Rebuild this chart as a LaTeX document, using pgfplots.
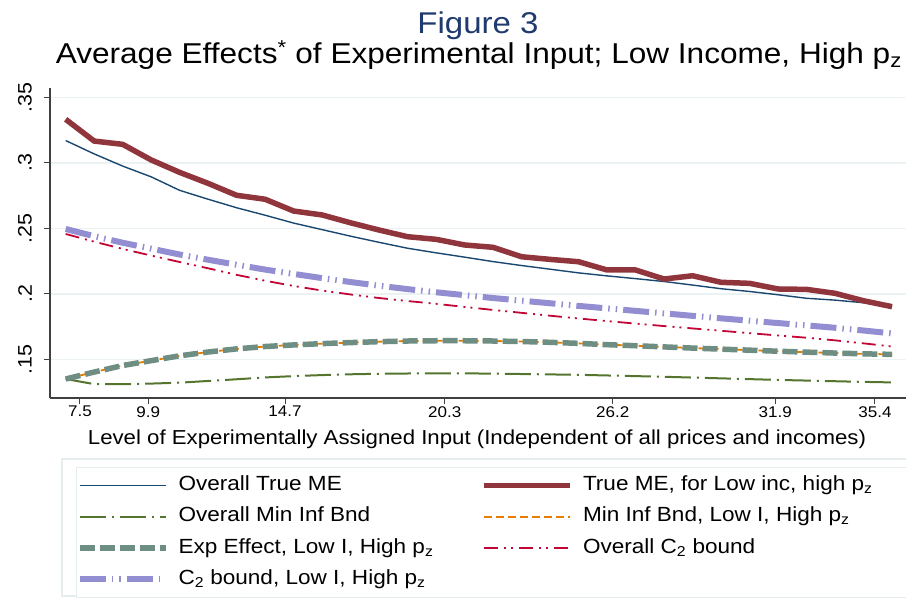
\documentclass[border=0pt]{standalone}
\usepackage{pgfplots}
\pgfplotsset{compat=1.18}
\usepackage{pgfplotstable}
\usepackage{fontspec}
\setmainfont{Liberation Sans}[FakeStretch=1.1]
\definecolor{sblue}{HTML}{1A476F}
\definecolor{smaroon}{HTML}{90353B}
\definecolor{sgreen}{HTML}{55752F}
\definecolor{sorange}{HTML}{E37E00}
\definecolor{steal}{HTML}{6E8E84}
\definecolor{cranb}{HTML}{C10534}
\definecolor{slav}{HTML}{938DD2}
\definecolor{sgrid}{HTML}{EAF2F3}
\definecolor{sbox}{HTML}{E6EDEF}
\definecolor{titleblue}{HTML}{1E3A6E}
\pgfplotstableread{
x  blue    red     mininf  minlow  expe    ctwoall ctwolow
7  0.3170  0.3332  0.1350  0.1350  0.1350  0.2457  0.2495
8  0.3068  0.3166  0.1311  0.1403  0.1403  0.2398  0.2440
9  0.2975  0.3141  0.1310  0.1453  0.1453  0.2343  0.2390
10 0.2893  0.3022  0.1315  0.1490  0.1490  0.2292  0.2345
11 0.2790  0.2927  0.1322  0.1527  0.1527  0.2243  0.2300
12 0.2722  0.2843  0.1335  0.1556  0.1556  0.2195  0.2260
13 0.2657  0.2752  0.1348  0.1580  0.1580  0.2145  0.2222
14 0.2600  0.2722  0.1362  0.1598  0.1598  0.2100  0.2185
15 0.2540  0.2632  0.1372  0.1610  0.1610  0.2060  0.2152
16 0.2490  0.2602  0.1380  0.1620  0.1620  0.2025  0.2120
17 0.2440  0.2542  0.1386  0.1628  0.1628  0.1995  0.2090
18 0.2393  0.2487  0.1390  0.1635  0.1635  0.1968  0.2062
19 0.2348  0.2436  0.1392  0.1640  0.1640  0.1945  0.2036
20 0.2313  0.2416  0.1393  0.1642  0.1642  0.1924  0.2012
21 0.2280  0.2373  0.1393  0.1642  0.1642  0.1900  0.1990
22 0.2246  0.2355  0.1391  0.1640  0.1640  0.1877  0.1968
23 0.2216  0.2283  0.1388  0.1636  0.1636  0.1855  0.1948
24 0.2188  0.2263  0.1385  0.1630  0.1630  0.1833  0.1928
25 0.2160  0.2245  0.1382  0.1622  0.1622  0.1812  0.1908
26 0.2137  0.2182  0.1377  0.1612  0.1612  0.1792  0.1889
27 0.2116  0.2182  0.1372  0.1604  0.1604  0.1773  0.1870
28 0.2094  0.2113  0.1367  0.1595  0.1595  0.1754  0.1851
29 0.2067  0.2138  0.1361  0.1586  0.1586  0.1736  0.1832
30 0.2039  0.2088  0.1355  0.1578  0.1578  0.1718  0.1813
31 0.2018  0.2080  0.1349  0.1570  0.1570  0.1700  0.1795
32 0.1993  0.2037  0.1343  0.1562  0.1562  0.1682  0.1777
33 0.1966  0.2034  0.1338  0.1555  0.1555  0.1665  0.1759
34 0.1952  0.2004  0.1333  0.1548  0.1548  0.1645  0.1741
35 0.1932  0.1947  0.1328  0.1542  0.1542  0.1622  0.1720
36 0.1902  0.1902  0.1324  0.1538  0.1538  0.1598  0.1698
}\datatable
\begin{document}
\begin{tikzpicture}
\path[use as bounding box] (0,0) rectangle (906pt,598pt);
\draw[sbox, line width=1.5pt] (62pt,2pt) rectangle (930pt,139pt);
\begin{axis}[
  at={(50pt,200pt)}, anchor=south west,
  scale only axis, width=856pt, height=310pt,
  clip=false,
  xmin=6.45, xmax=36.49, ymin=0.1205, ymax=0.3571,
  axis x line*=bottom, axis y line*=left,
  axis line style={draw=black!75, line width=1.2pt, -},
  xtick={7.5,9.9,14.7,20.3,26.2,31.9,35.4},
  xticklabels={7.5,9.9,14.7,20.3,26.2,31.9,35.4},
  ytick={0.15,0.2,0.25,0.3,0.35},
  yticklabels={.15,.2,.25,.3,.35},
  /pgf/number format/assume math mode=true,
  tick align=outside, major tick length=6pt,
  tick style={draw=black!75, line width=1pt},
  ymajorgrids, grid style={sgrid, line width=1.5pt},
  xticklabel style={font=\fontsize{15.5}{19}\selectfont, inner sep=2pt},
  yticklabel style={font=\fontsize{19.5}{24}\selectfont, rotate=90, anchor=south, inner sep=12pt},
  title={Average Effects\textsuperscript{*} of Experimental Input; Low Income, High p\textsubscript{z}},
  title style={font=\fontsize{28.7}{34}\selectfont, at={(axis description cs:0.501,1.0581)}, anchor=base, inner sep=0pt},
  xlabel={Level of Experimentally Assigned Input (Independent of all prices and incomes)},
  xlabel style={font=\fontsize{20.2}{25}\selectfont, at={(axis description cs:0.4988,-0.1516)}, anchor=base, inner sep=0pt},
  legend columns=2,
  legend cell align=left,
  legend image code/.code={\draw[#1] (0pt,0pt) -- (86pt,0pt);},
  legend style={at={(axis description cs:0.0304,-0.2226)}, anchor=north west,
    draw=sbox, line width=1pt, inner xsep=0pt, inner ysep=5pt,
    font=\fontsize{20.5}{24}\selectfont,
    nodes={inner xsep=2pt, inner ysep=3pt, text height=15pt, text depth=5pt},
    row sep=5.3pt,
    /tikz/every odd column/.append style={column sep=8pt},
    /tikz/every even column/.append style={column sep=2pt}},
]
\addplot[sblue, line width=1.4pt, line join=round] table[x=x, y=blue] {\datatable};
\addlegendentry{\makebox[299pt][l]{Overall True ME}}
\addplot[smaroon, line width=5.5pt, line join=round] table[x=x, y=red] {\datatable};
\addlegendentry{\makebox[340pt][l]{True ME, for Low inc, high p\textsubscript{z}}}
\addplot[sgreen, line width=2pt, dash pattern=on 26pt off 6pt on 2pt off 6pt] table[x=x, y=mininf] {\datatable};
\addlegendentry{Overall Min Inf Bnd}
\addplot[sorange, line width=1.8pt, dash pattern=on 8pt off 4pt] table[x=x, y=minlow] {\datatable};
\addlegendentry{Min Inf Bnd, Low I, High p\textsubscript{z}}
\addplot[steal, line width=5.5pt, dash pattern=on 15pt off 5pt] table[x=x, y=expe] {\datatable};
\addlegendentry{Exp Effect, Low I, High p\textsubscript{z}}
\addplot[color=cranb, line width=1.8pt, dash pattern=on 14pt off 6pt on 2pt off 5pt on 2pt off 6pt] table[x=x, y=ctwoall] {\datatable};
\addlegendentry{Overall C\textsubscript{2} bound}
\addplot[slav, line width=6pt, dash pattern=on 26pt off 6pt on 1.5pt off 6pt on 1.5pt off 6pt] table[x=x, y=ctwolow] {\datatable};
\addlegendentry{C\textsubscript{2} bound, Low I, High p\textsubscript{z}}
\node[font=\fontsize{30}{36}\selectfont, text=titleblue, anchor=base, inner sep=0pt] at (axis description cs:0.5,1.177) {Figure 3};
\end{axis}
\end{tikzpicture}
\end{document}
